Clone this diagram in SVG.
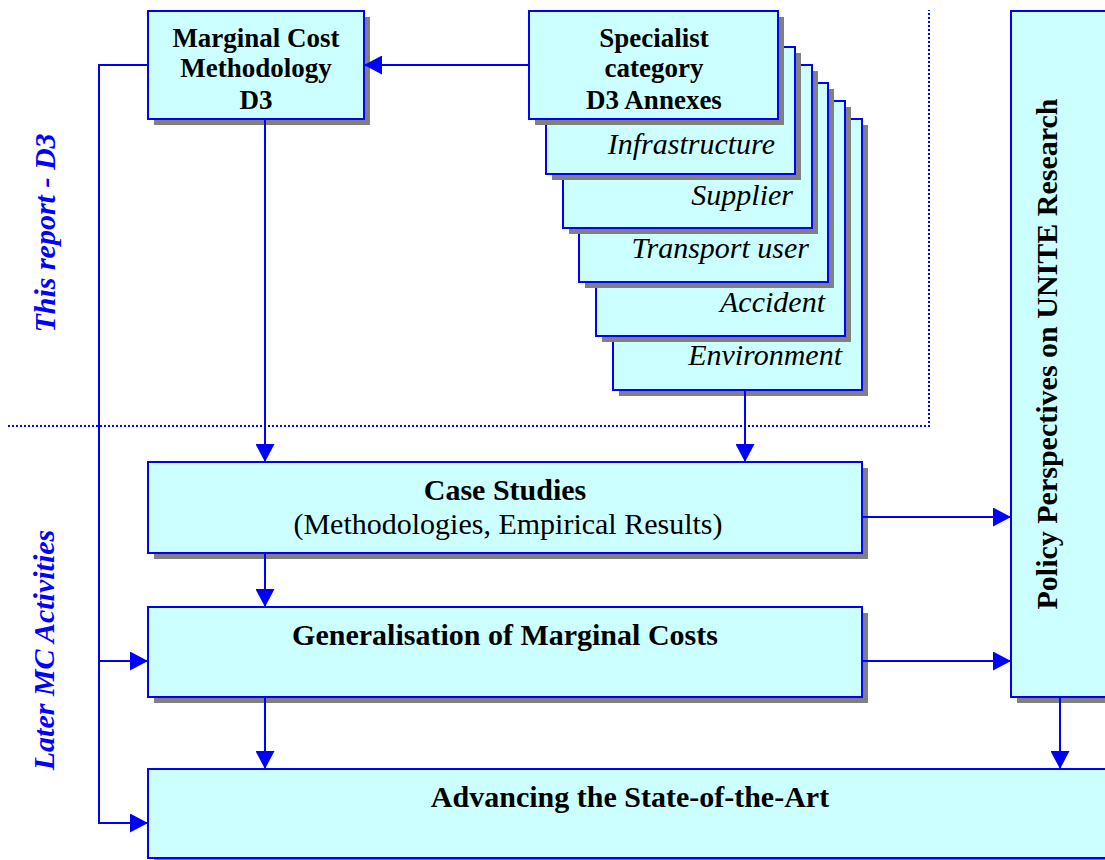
<svg xmlns="http://www.w3.org/2000/svg" width="1105" height="860" viewBox="0 0 1105 860">
<style>
.box{fill:#CCFFFF;stroke:#0000FF;stroke-width:2}
.sh{fill:#808080}
.b27{font-family:"Liberation Serif","Times New Roman",serif;font-weight:bold;font-size:27px;fill:#000;text-anchor:middle}
.b30{font-family:"Liberation Serif","Times New Roman",serif;font-weight:bold;font-size:30px;fill:#000;text-anchor:middle}
.r30{font-family:"Liberation Serif","Times New Roman",serif;font-size:30px;fill:#000;text-anchor:middle}
.i30{font-family:"Liberation Serif","Times New Roman",serif;font-style:italic;font-size:30px;fill:#000;text-anchor:end}
.side{font-family:"Liberation Serif","Times New Roman",serif;font-style:italic;font-weight:bold;font-size:30px;fill:#0000FF;text-anchor:middle}
.conn{fill:none;stroke:#0000FF;stroke-width:2}
.dot{fill:none;stroke:#0000FF;stroke-width:2;stroke-dasharray:2 2}
</style>
<defs>
<marker id="ah" markerUnits="userSpaceOnUse" markerWidth="19" markerHeight="19" refX="18" refY="9.5" orient="auto">
<path d="M0,0 L18,9.5 L0,19 z" fill="#0000FF"/>
</marker>
</defs>
<rect width="1105" height="860" fill="#FFFFFF"/>

<g id="region-lines">
<path class="dot" d="M8,426 H929 V10"/>
</g>

<g id="side-labels">
<text class="side" transform="translate(55,233) rotate(-90)">This report - D3</text>
<text class="side" transform="translate(54,650) rotate(-90)">Later MC Activities</text>
</g>

<g id="annex-environment">
<rect class="sh" x="619" y="125" width="249" height="271"/>
<rect class="box" x="613" y="119" width="249" height="271"/>
<text class="i30" x="842" y="365">Environment</text>
</g>
<g id="annex-accident">
<rect class="sh" x="602" y="107" width="249" height="235"/>
<rect class="box" x="596" y="101" width="249" height="235"/>
<text class="i30" x="825" y="312">Accident</text>
</g>
<g id="annex-transport-user">
<rect class="sh" x="585" y="89" width="249" height="199"/>
<rect class="box" x="579" y="83" width="249" height="199"/>
<text class="i30" x="809" y="258">Transport user</text>
</g>
<g id="annex-supplier">
<rect class="sh" x="569" y="71" width="249" height="163"/>
<rect class="box" x="563" y="65" width="249" height="163"/>
<text class="i30" x="793" y="205">Supplier</text>
</g>
<g id="annex-infrastructure">
<rect class="sh" x="552" y="53" width="249" height="127"/>
<rect class="box" x="546" y="47" width="249" height="127"/>
<text class="i30" x="775" y="154">Infrastructure</text>
</g>
<g id="specialist">
<rect class="sh" x="535" y="17" width="249" height="108"/>
<rect class="box" x="529" y="11" width="249" height="108"/>
<text class="b27" x="654" y="47">Specialist</text>
<text class="b27" x="654" y="77">category</text>
<text class="b27" x="654" y="109">D3 Annexes</text>
</g>

<g id="marginal-cost">
<rect class="sh" x="154" y="17" width="216" height="108"/>
<rect class="box" x="148" y="11" width="216" height="108"/>
<text class="b27" x="256" y="47">Marginal Cost</text>
<text class="b27" x="256" y="77">Methodology</text>
<text class="b27" x="256" y="109">D3</text>
</g>

<g id="case-studies">
<rect class="sh" x="154" y="468" width="714" height="91"/>
<rect class="box" x="148" y="462" width="714" height="91"/>
<text class="b30" x="505" y="500">Case Studies</text>
<text class="r30" x="508" y="534">(Methodologies, Empirical Results)</text>
</g>

<g id="generalisation">
<rect class="sh" x="154" y="613" width="714" height="90"/>
<rect class="box" x="148" y="607" width="714" height="90"/>
<text class="b30" x="505" y="645">Generalisation of Marginal Costs</text>
</g>

<g id="policy">
<rect class="sh" x="1017" y="17" width="110" height="686"/>
<rect class="box" x="1011" y="11" width="110" height="686"/>
<text class="b30" transform="translate(1057,354) rotate(-90)">Policy Perspectives on UNITE Research</text>
</g>

<g id="advancing">
<rect class="sh" x="154" y="775" width="964" height="89"/>
<rect class="box" x="148" y="769" width="964" height="89"/>
<text class="b30" x="630" y="807">Advancing the State-of-the-Art</text>
</g>

<g id="connectors">
<path class="conn" d="M529,65 H364" marker-end="url(#ah)"/>
<path class="conn" d="M265,119 V462" marker-end="url(#ah)"/>
<path class="conn" d="M745,390 V462" marker-end="url(#ah)"/>
<path class="conn" d="M148,65 H99 V823 H148" marker-end="url(#ah)"/>
<path class="conn" d="M99,661 H148" marker-end="url(#ah)"/>
<path class="conn" d="M265,553 V607" marker-end="url(#ah)"/>
<path class="conn" d="M265,697 V769" marker-end="url(#ah)"/>
<path class="conn" d="M862,517 H1011" marker-end="url(#ah)"/>
<path class="conn" d="M862,661 H1011" marker-end="url(#ah)"/>
<path class="conn" d="M1060,697 V769" marker-end="url(#ah)"/>
</g>
</svg>
